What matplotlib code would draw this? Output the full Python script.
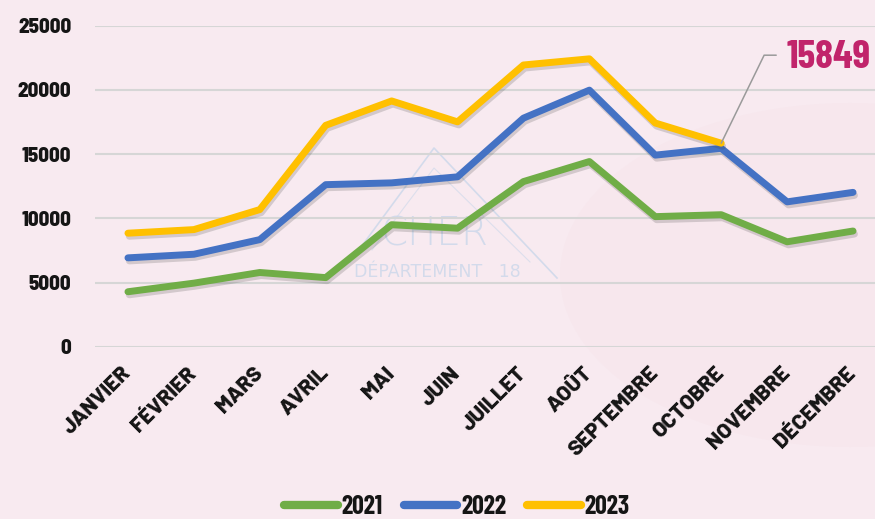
import matplotlib
matplotlib.use("Agg")
import matplotlib.pyplot as plt
import matplotlib.patheffects as pe
from matplotlib.patches import Circle
from matplotlib.lines import Line2D

months = ["JANVIER", "FÉVRIER", "MARS", "AVRIL", "MAI", "JUIN", "JUILLET",
          "AOÛT", "SEPTEMBRE", "OCTOBRE", "NOVEMBRE", "DÉCEMBRE"]
y2021 = [4280, 4950, 5780, 5380, 9500, 9230, 12860, 14420, 10130, 10280, 8170, 9010]
y2022 = [6920, 7200, 8340, 12620, 12760, 13230, 17800, 19980, 14920, 15450, 11280, 12020]
y2023 = [8840, 9120, 10680, 17240, 19140, 17510, 21940, 22420, 17420, 15849]
series_labels = ["2021", "2022", "2023"]
colors = ["#70AD47", "#4472C4", "#FFC000"]
yticks = [0, 5000, 10000, 15000, 20000, 25000]

TICKFONT = ["Barlow Semi Condensed", "DejaVu Sans"]
XFONT = ["Barlow", "DejaVu Sans"]
CONDFONT = ["Barlow Condensed", "DejaVu Sans"]

W, H = 875, 519
fig = plt.figure(figsize=(W / 100, H / 100), dpi=100)
bg = "#F8EAF0"
fig.patch.set_facecolor(bg)

# decorative background circle
circ = Circle((850 / W, 1 - 275 / H), 290 / W, transform=fig.transFigure,
              facecolor="#F7E7ED", edgecolor="none", zorder=0)
fig.patches.append(circ)

ax = fig.add_axes([95 / W, 1 - 346.7 / H, 791 / W, (346.7 - 25.7) / H])
ax.set_facecolor("none")
ax.set_zorder(2)

# watermark
wm = "#CAD7EA"
fig.add_artist(Line2D([350 / W, 434 / W, 557 / W], [1 - 262 / H, 1 - 148 / H, 1 - 278 / H],
                      color=wm, lw=1.2, alpha=0.8, zorder=1))
fig.add_artist(Line2D([372 / W, 434 / W, 530 / W], [1 - 250 / H, 1 - 168 / H, 1 - 262 / H],
                      color=wm, lw=0.8, alpha=0.6, zorder=1))
fig.text(435 / W, 1 - 234 / H, "CHER", fontsize=28, color=wm, alpha=0.8,
         ha="center", va="center", family="DejaVu Sans", fontweight="light", zorder=1)
fig.text(437 / W, 1 - 272 / H, "DÉPARTEMENT   18", fontsize=12.5, color=wm, alpha=0.8,
         ha="center", va="center", family="DejaVu Sans", zorder=1)

x = list(range(len(months)))
shadow = [pe.SimpleLineShadow(offset=(1.0, -2.2), shadow_color="#404040", alpha=0.2),
          pe.Normal()]
for vals, lab, col in zip([y2021, y2022, y2023], series_labels, colors):
    ax.plot(x[:len(vals)], vals, color=col, lw=5, solid_capstyle="round",
            solid_joinstyle="round", label=lab, path_effects=shadow, zorder=3)

ax.set_xlim(-0.5, 11.5)
ax.set_ylim(0, 25000)
ax.set_yticks(yticks)
ax.set_yticklabels([str(v) for v in yticks], family=TICKFONT,
                   fontweight=800, fontsize=15, color="#151515")
ax.set_xticks(x)
ax.set_xticklabels(months, rotation=45, ha="right", va="center", rotation_mode="anchor",
                   family=XFONT, fontweight=800, fontsize=15.5, color="#151515")
ax.tick_params(axis="both", length=0)
ax.tick_params(axis="y", pad=17)
ax.tick_params(axis="x", pad=17)
for s in ax.spines.values():
    s.set_visible(False)
ax.grid(axis="y", color="#D6D6D6", lw=1.5, zorder=1)
ax.set_axisbelow(True)

# annotation on last 2023 point
i = len(y2023) - 1
ax.annotate("", xy=(i, y2023[i]), xytext=(55 * 0.72, 88 * 0.72), textcoords="offset points",
            arrowprops=dict(arrowstyle="-", color="#9A9A9A", lw=1.1, shrinkA=0, shrinkB=0,
                            connectionstyle="angle,angleA=180,angleB=64,rad=0"), zorder=4)
ax.annotate(str(y2023[i]), xy=(i, y2023[i]), xytext=(65 * 0.72, 86 * 0.72),
            textcoords="offset points", ha="left", va="center",
            family=CONDFONT, fontweight=700,
            fontsize=29, color="#C1246B", annotation_clip=False, zorder=5)

leg_handles = [Line2D([0], [0], color=c, lw=6, solid_capstyle="round") for c in colors]
leg = fig.legend(leg_handles, series_labels, loc="center", bbox_to_anchor=(457 / W, 12 / H),
                 ncol=3, frameon=False, handlelength=2.1, handletextpad=0.15,
                 columnspacing=0.8, borderpad=0,
                 prop=dict(family=CONDFONT, weight=700, size=18.5))
for t in leg.get_texts():
    t.set_color("#151515")

fig.savefig("out.png", dpi=100, facecolor=fig.get_facecolor())
